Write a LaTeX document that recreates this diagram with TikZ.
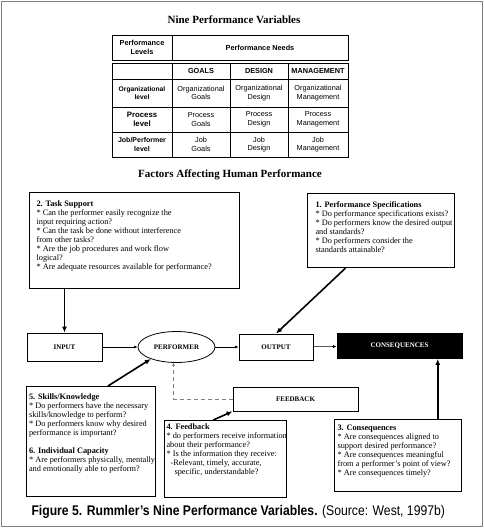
\documentclass[tikz,border=0pt]{standalone}
\usepackage{fontspec}
\usepackage{graphicx}
\setmainfont{Liberation Serif}
\setsansfont{Liberation Sans}
\usetikzlibrary{arrows.meta, calc, shapes.geometric}

\newcommand{\boxfont}{\fontsize{8.3}{9}\selectfont}
\newcommand{\tabfont}{\sffamily\fontsize{7.3}{8.7}\selectfont}
\newcommand{\q}{{*}~}
% fixed-size question box: height, width, top gap, lines
\newcommand{\qtext}[4]{\parbox[c][#1][t]{#2}{\vspace{#3}\begin{tabular}[t]{@{}l@{}}#4\end{tabular}}}

\begin{document}
\begin{tikzpicture}[x=1pt, y=-1pt,
  qbox/.style={draw, line width=1.1pt, anchor=north west, inner ysep=0pt, font=\boxfont},
  flowbox/.style={draw, line width=0.8pt, font=\rmfamily\bfseries\fontsize{7}{8}\selectfont},
  heavy/.style={-{Latex[length=6pt,width=5pt]}, line width=1.6pt},
  light/.style={-{Latex[length=3.5pt,width=3pt]}, line width=0.6pt},
  cell/.style={align=center, font=\tabfont},
]
\useasboundingbox (0,0) rectangle (484,528);
\draw[gray, line width=1.5pt] (1.5,1.5) rectangle (482.5,526.5);

% nine performance variables
\node[font=\bfseries\fontsize{11}{12}\selectfont] (title) at (234,20) {Nine Performance Variables};
\draw[line width=1pt] (112,35) rectangle (348,60);
\draw[line width=0.6pt] (172,35) -- (172,60);
\node[cell, font=\tabfont\bfseries] (levels) at (142,47.5) {Performance\\Levels};
\node[cell, font=\tabfont\bfseries] (needs) at (260,47.5) {Performance Needs};

\draw[line width=1pt] (112,63) rectangle (348,157);
\foreach \x in {172,230,288} \draw[line width=0.6pt] (\x,63) -- (\x,157);
\foreach \y in {79,107,132} \draw[line width=0.6pt] (112,\y) -- (348,\y);

\foreach \need/\x in {GOALS/201, DESIGN/259, MANAGEMENT/318}
  \node[cell, font=\tabfont\bfseries] (head-\need) at (\x,71) {\need};

\node[cell, font=\sffamily\bfseries\fontsize{6.7}{8.7}\selectfont] (lvl-org) at (142,93) {Organizational\\level};
\node[cell, font=\sffamily\bfseries\fontsize{7.8}{9}\selectfont] (lvl-proc) at (142,119.5) {Process\\level};
\node[cell, font=\sffamily\bfseries\fontsize{7}{8.7}\selectfont] (lvl-job) at (142,144.5) {Job/Performer\\level};

\foreach \lev/\y in {Organizational/93, Process/119.5, Job/144.5}
  \foreach \need/\x in {Goals/201, Design/259, Management/318}
    \node[cell] (\lev-\need) at (\x,\y) {\lev\\\need};

% factors affecting human performance
\node[font=\bfseries\fontsize{11}{12}\selectfont] (factors) at (230,175) {Factors Affecting Human Performance};

\node[qbox, inner xsep=7pt] (task) at (29,192) {\qtext{96pt}{196pt}{7.5pt}{%
\textbf{2. Task Support}\\
\q Can the performer easily recognize the\\
input requiring action?\\
\q Can the task be done without interference\\
from other tasks?\\
\q Are the job procedures and work flow\\
logical?\\
\q Are adequate resources available for performance?}};

\node[qbox, inner xsep=8pt] (spec) at (307,193) {\qtext{74pt}{131pt}{7.5pt}{%
\textbf{1. Performance Specifications}\\
\q Do performance specifications exists?\\
\q Do performers know the desired output\\
and standards?\\
\q Do performers consider the\\
standards attainable?}};

\node[flowbox, minimum width=75pt, minimum height=28pt] (input) at (64.5,347) {INPUT};
\node[flowbox, ellipse, minimum width=77pt, minimum height=31pt, inner sep=0pt] (perf) at (176.5,347) {PERFORMER};
\node[flowbox, minimum width=74pt, minimum height=26pt] (output) at (276,347) {OUTPUT};
\node[flowbox, fill=black, text=white, minimum width=125pt, minimum height=25pt] (conseq) at (399.5,346) {CONSEQUENCES};
\node[flowbox, minimum width=125pt, minimum height=24pt] (fb) at (295.5,399) {FEEDBACK};

\node[qbox, inner xsep=2.5pt] (skills) at (26,386) {\qtext{110pt}{124pt}{6.5pt}{%
\textbf{5. Skills/Knowledge}\\
\q Do performers have the necessary\\
skills/knowledge to perform?\\
\q Do performers know why desired\\
performance is important?\\[9pt]
\textbf{6. Individual Capacity}\\
\q Are performers physically, mentally,\\
and emotionally able to perform?}};

\node[qbox, inner xsep=2pt] (fb4) at (164,420) {\qtext{77pt}{118pt}{2.5pt}{%
\textbf{4. Feedback}\\
\q do performers receive information\\
about their performance?\\
\q Is the information they receive:\\
\hspace*{4pt}-Relevant, timely, accurate,\\
\hspace*{8pt}specific, understandable?}};

\node[qbox, inner xsep=3pt] (cons3) at (334,419) {\qtext{72pt}{121pt}{4.5pt}{%
\textbf{3. Consequences}\\
\q Are consequences aligned to\\
support desired performance?\\
\q Are consequences meaningful\\
from a performer’s point of view?\\
\q Are consequences timely?}};

% connectors
\draw[light] (input) -- (perf);
\draw[light] (perf) -- (output);
\draw[light] (output) -- (conseq);
\draw[heavy] (task.south -| input.north) -- (input.north);
\draw[heavy] ($(spec.south west)!0.26!(spec.south east)$) -- (output.north);
\draw[heavy] ($(skills.north west)!0.63!(skills.north east)$) -- (perf.205);
\draw[heavy] ($(fb4.north west)!0.4!(fb4.north east)$) -- (fb.south west);
\coordinate (c3top) at ($(cons3.north west)!0.81!(cons3.north east)$);
\draw[heavy] (c3top) -- (c3top |- conseq.south);
\draw[gray, line width=0.8pt, dash pattern=on 4pt off 3pt, -{Latex[length=3pt,width=3pt]}]
  (fb.west) -| ($(perf.south)+(-3,0)$);

\node[anchor=west, font=\sffamily\fontsize{14}{16}\selectfont] (caption) at (28,512)
  {\scalebox{0.87}[1]{\textbf{Figure 5. Rummler’s Nine Performance Variables.} (Source: West, 1997b)}};
\end{tikzpicture}
\end{document}
